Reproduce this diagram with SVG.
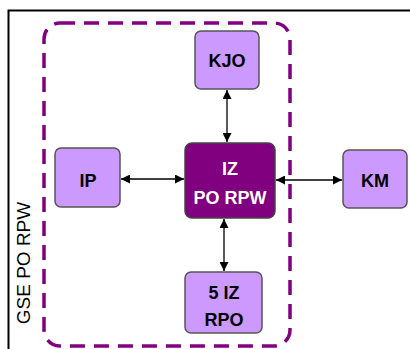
<svg xmlns="http://www.w3.org/2000/svg" width="410" height="349" viewBox="0 0 410 349">
<style>
.n{fill:#CC99FF;stroke:#555555;stroke-width:1.5}
.c{fill:#800080;stroke:#444444;stroke-width:1.5}
.t{font-family:"Liberation Sans",Arial,sans-serif;font-weight:bold;font-size:18px;text-anchor:middle;fill:#000}
.w{fill:#fff}
.e{stroke:#000;stroke-width:1.3;fill:none;marker-start:url(#a);marker-end:url(#a)}
</style>
<defs>
<marker id="a" viewBox="0 0 10 10" refX="10" refY="5" markerWidth="9" markerHeight="9" markerUnits="userSpaceOnUse" orient="auto-start-reverse">
<path d="M0,0L10,5L0,10z" fill="#000"/>
</marker>
</defs>
<rect x="0" y="0" width="410" height="349" fill="#fff"/>
<path d="M8.5,349V10.5H410" fill="none" stroke="#000" stroke-width="2"/>
<g id="group">
<rect x="44" y="23" width="246" height="323" rx="16" fill="none" stroke="#800080" stroke-width="3.5" stroke-dasharray="15 9"/>
<text transform="translate(30,263) rotate(-90)" font-family="'Liberation Sans',Arial,sans-serif" font-size="19" text-anchor="middle" fill="#000">GSE PO RPW</text>
</g>
<g id="connectors">
<path class="e" d="M227,90V142"/>
<path class="e" d="M121,179H184"/>
<path class="e" d="M276,180H342"/>
<path class="e" d="M224,219V271"/>
</g>
<g id="KJO"><rect class="n" x="195" y="31" width="64" height="58" rx="6"/><text class="t" x="227" y="67">KJO</text></g>
<g id="IP"><rect class="n" x="55" y="148" width="65" height="59" rx="6"/><text class="t" x="88" y="187">IP</text></g>
<g id="center"><rect class="c" x="185" y="143" width="90" height="75" rx="7"/><text class="t w" x="230" y="175">IZ</text><text class="t w" x="230" y="204">PO RPW</text></g>
<g id="KM"><rect class="n" x="343" y="150" width="64" height="58" rx="6"/><text class="t" x="375" y="187">KM</text></g>
<g id="IZ5"><rect class="n" x="185" y="272" width="77" height="61" rx="6"/><text class="t" x="224" y="299">5 IZ</text><text class="t" x="224" y="326">RPO</text></g>
</svg>
